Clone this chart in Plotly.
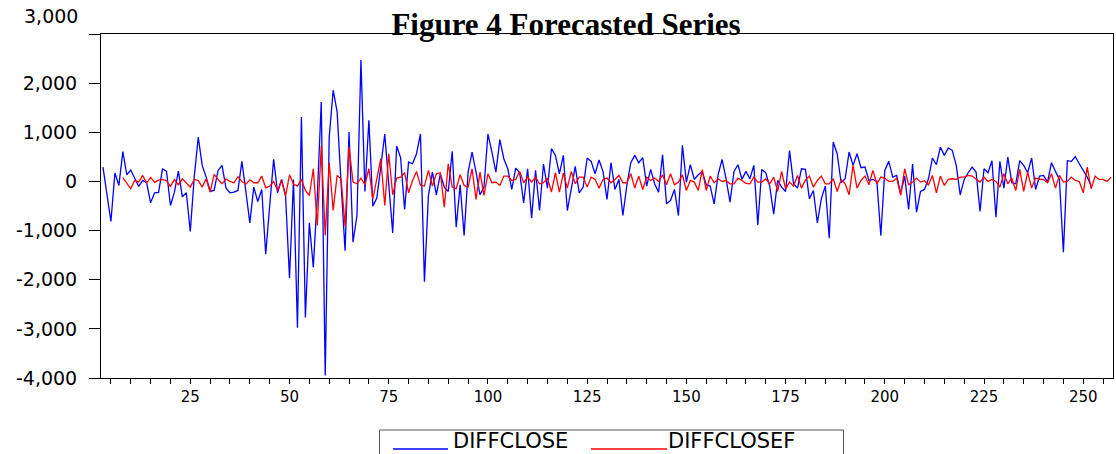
import plotly.graph_objects as go

# ---- data ----
blue_start = 3
diffclose = [
    292, -260, -816, 170, -82, 605, 136, 231, 54, -102, 20, -27, -435, -231, -224, 252, 211, -490, -218, 211,
    -313, -231, -1020, 100, 900,
    326, 88, -204, -184, 224, 326, -136, -231, -218, -184, 408, -200, -843, -116, -408, -163, -1482, -500, 449, -231,
    41, -286, -1972, 41, -2978, 1313,
    -2768, -843, -1748, -300, 1618, -3950, 900, 1856, 1414, -50, -1408, 1006, -1238, -694, 2468, -204, 1244, -503, -340, 300,
    966, -50, -1047, 721, 480,
    -571, 394, 360, 564, 966, -2040, -286, 190, -272, 156, -116, -204, 612, -932, -68, -1102, 190, 598, 190, -272,
    -116, 966, 598, 190, 850,
    462, 258, -163, 272, 177, -435, 258, -748, 224, -592, 354, -136, 666, 530, 156, 530, -592, -150, 306, -231,
    -116, 476, 408, 156, 435, 200,
    -367, 381, -163, 41, -694, -82, 381, 530, 381, 483, -95, 245, -48, -218, 544, -456, -388, -163, -694, 734,
    -14, 340, 41, 136, 200,
    -68, -95, -456, 136, 449, 54, -422, 204, 340, 41, 204, 54, 326, -884, 245, 177, -95, -666, 20, -116,
    -204, 626, -48, -136, 258, 245,
    -354, -184, -843, -354, -95, -1156, 802, 564, -27, 54, 598, 326, 564, 279, 292, 20, 41, 0, -1102, 224,
    408, 88, 122, -250,
    109, -571, 354, -626, -204, -163, 54, 476, 340, 700, 530, 680, 632, 326, -272, 41, 177, 292, 190, -612,
    258, 177, 422, -728, 408,
    -136, 496, -27, -48, 422, 326, 177, 476, -163, 109, 122, -14, 381, 204, 41, -1442, 422, 408, 503, 360,
    224, 88, -95,
]

red_start = 8
diffclosef = [
    75, -48, -150, 20, -14, 122, -34, 82, -20, 27, 41, 14, -102, 41, -68, 54, -27, -116, 41, 20,
    -116, 54, -218, 143, 41, -48, 54, 0, -27, 95, 0, -54, 34, -27, -27, 109, -129, -95, 0, -184, 20, -299, 136, -54, -95,
    41, -184, -286, 258, -898, 721, -1102, 381, -592, 122, 54, -911, 700, -14, -48, 68, -68, 258, -354, 54, 462, -490,
    564, -272, 68, 88,
    177, -231, 20, 204, -82, -95, 224, -95, 156, 177, -524, 360, -116, -150, 136, -82, -116, 258, -367, 190, -286, 156,
    -27, -14, -82,
    109, 109, 20, 41, 204, -27, 88, -14, 88, -48, -27, 68, -218, 177, -218, 170, -136, 204, -48, 88, 88, -116, 88, 41, -136,
    41,
    68, -27, 41, 122, -27, -27, 156, -136, 109, -163, 88, 20, 68, 0, 136, -68, 156, -68, -14, 136, -184, 20, -14, -184, 238,
    -184, 109, -27, 54, 0, 20, -48, -48, 68, 20, -41, -48, 88, -14, -14, 54, -48, 88, -204, 204, -150, -14, -95, 122, -136,
    30, 109, -116, 20, 109, -48, -48, 54, -204, 41, -48, -272, 326, -136, 20, 109, -68, 224, -48, 88, 68, 0, 0, 68, -286,
    258, -68, -14, 68, -14, 14, -68, 122, -231, 109, -82, 41, 54, 41, 88, 88, 122, 109, 41, -14, 88, 0, 41, 0, -116,
    156, -48, 68, -184, 245, -204, 190, -136, 68, 41, 41, -27, 156, -136, 122, -14, 0, 88, 20, 0, -231, 292, -150, 109,
    41, 41, 0, 88,
]

x_tick_vals = [25, 50, 75, 100, 125, 150, 175, 200, 225, 250]
y_tick_vals = [-4000, -3000, -2000, -1000, 0, 1000, 2000, 3000]
y_tick_text = ["-4,000", "-3,000", "-2,000", "-1,000", "0", "1,000", "2,000", ""]
top_label = "3,000"
series_names = ["DIFFCLOSE", "DIFFCLOSEF"]
title_text = "Figure 4 Forecasted Series"

# ---- figure ----
W, H = 1116, 454
L, R, T, B = 101, 3, 34, 76
PW, PH = W - L - R, H - T - B


def px(xpix):
    return (xpix - L) / PW


def py(ypix):
    return (H - B - ypix) / PH


fig = go.Figure()
fig.add_trace(go.Scatter(
    x=list(range(blue_start, blue_start + len(diffclose))), y=diffclose,
    mode="lines", name=series_names[0], line=dict(color="#0000FF", width=1.3)))
fig.add_trace(go.Scatter(
    x=list(range(red_start, red_start + len(diffclosef))), y=diffclosef,
    mode="lines", name=series_names[1], line=dict(color="#FF0000", width=1.3)))

fig.update_layout(
    width=W, height=H,
    margin=dict(l=L, r=R, t=T, b=B, pad=0, autoexpand=False),
    plot_bgcolor="white", paper_bgcolor="white",
    showlegend=False,
    title=dict(text=title_text, x=566 / W, xanchor="center", xref="container",
               y=1 - 24 / H, yanchor="middle", yref="container",
               font=dict(family="Liberation Serif, Times New Roman, serif", size=31,
                         color="black", weight=700)),
)

fig.update_xaxes(
    range=[2.5, 257.5], tickvals=x_tick_vals, ticks="outside", ticklen=5,
    tickcolor="black", showline=True, linecolor="black", linewidth=1, mirror=True,
    showgrid=False, zeroline=False, automargin=False,
    tickfont=dict(family="DejaVu Sans", size=15, color="black"),
    minor=dict(dtick=5, tick0=0, ticks="outside", ticklen=5, tickcolor="black", showgrid=False),
)
fig.update_yaxes(
    range=[-4000, 3000], tickvals=y_tick_vals, ticktext=y_tick_text, ticks="outside",
    ticklen=11, tickcolor="black", showline=True, linecolor="black", linewidth=1, mirror=True,
    showgrid=False, zeroline=False, ticklabelstandoff=8, automargin=False,
    tickfont=dict(family="DejaVu Sans", size=19, color="black"),
)

# top tick label drawn above the frame as in the reference
fig.add_annotation(text=top_label, xref="paper", yref="paper", x=px(80), y=py(16),
                   xanchor="right", yanchor="middle", showarrow=False,
                   font=dict(family="DejaVu Sans", size=19, color="black"))

# legend box at the bottom (EViews style)
fig.add_shape(type="rect", xref="paper", yref="paper", x0=px(379.5), x1=px(843.5),
              y0=py(470), y1=py(430), line=dict(color="#555555", width=1), fillcolor="white",
              layer="above")
fig.add_shape(type="line", xref="paper", yref="paper", x0=px(393), x1=px(448),
              y0=py(449), y1=py(449), line=dict(color="#0000FF", width=1.5))
fig.add_shape(type="line", xref="paper", yref="paper", x0=px(591), x1=px(667),
              y0=py(449), y1=py(449), line=dict(color="#FF0000", width=1.5))
fig.add_annotation(text=series_names[0], xref="paper", yref="paper", x=px(451), y=py(441),
                   xanchor="left", yanchor="middle", showarrow=False,
                   font=dict(family="DejaVu Sans", size=21, color="black"))
fig.add_annotation(text=series_names[1], xref="paper", yref="paper", x=px(666), y=py(441),
                   xanchor="left", yanchor="middle", showarrow=False,
                   font=dict(family="DejaVu Sans", size=21, color="black"))

# remove the browser's default page margin so the figure starts at the window corner
fig.write_html("out.html", config={"displayModeBar": False},
               post_script="document.body.style.margin='0px';document.body.style.overflow='hidden';")
